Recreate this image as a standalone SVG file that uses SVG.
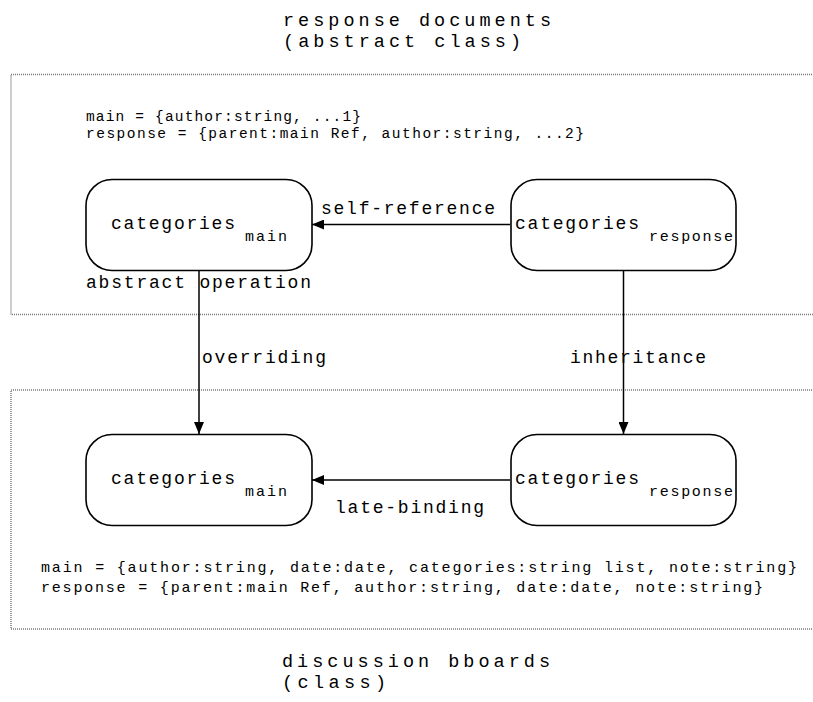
<svg xmlns="http://www.w3.org/2000/svg" width="813" height="702" viewBox="0 0 813 702">
<style>
text{font-family:"Liberation Mono","DejaVu Sans Mono",monospace;fill:#000}
.title{font-size:18.5px}
.lbl{font-size:18px}
.sub{font-size:15px}
.rec{font-size:14.5px}
.rec2{font-size:15px}
.frame{fill:none;stroke:#7a7a7a;stroke-width:1.5;stroke-dasharray:1 1}
.node{fill:#fff;stroke:#000;stroke-width:1.6}
.edge{fill:none;stroke:#000;stroke-width:1.5}
</style>
<defs>
<marker id="arr" viewBox="0 0 12 10" refX="12" refY="5" markerWidth="12" markerHeight="10" markerUnits="userSpaceOnUse" orient="auto">
<path d="M0,0 L12,5 L0,10 Z" fill="#000"/>
</marker>
</defs>
<rect width="813" height="702" fill="#fff"/>
<g id="frame-abstract">
<rect class="frame" x="11" y="74.5" width="830" height="240"/>
<text class="title" x="283" y="26" textLength="268" lengthAdjust="spacing">response documents</text>
<text class="title" x="283" y="47" textLength="238" lengthAdjust="spacing">(abstract class)</text>
<text class="rec" x="86" y="121" textLength="275" lengthAdjust="spacing">main = {author:string, ...1}</text>
<text class="rec" x="86" y="138" textLength="498" lengthAdjust="spacing">response = {parent:main Ref, author:string, ...2}</text>
<text class="lbl" x="86" y="288" textLength="225" lengthAdjust="spacing">abstract operation</text>
</g>
<g id="frame-class">
<rect class="frame" x="11" y="390" width="830" height="239"/>
<text class="rec2" x="41" y="572" textLength="756" lengthAdjust="spacing">main = {author:string, date:date, categories:string list, note:string}</text>
<text class="rec2" x="41" y="592" textLength="722" lengthAdjust="spacing">response = {parent:main Ref, author:string, date:date, note:string}</text>
<text class="title" x="282" y="667" textLength="268" lengthAdjust="spacing">discussion bboards</text>
<text class="title" x="282" y="688" textLength="104" lengthAdjust="spacing">(class)</text>
</g>
<g id="connectors">
<line class="edge" x1="510" y1="224.5" x2="312" y2="224.5" marker-end="url(#arr)"/>
<line class="edge" x1="199" y1="270" x2="199" y2="434" marker-end="url(#arr)"/>
<line class="edge" x1="623.5" y1="270" x2="623.5" y2="434" marker-end="url(#arr)"/>
<line class="edge" x1="510" y1="480" x2="312" y2="480" marker-end="url(#arr)"/>
<text class="lbl" x="321" y="214" textLength="174" lengthAdjust="spacing">self-reference</text>
<text class="lbl" x="202" y="363" textLength="124" lengthAdjust="spacing">overriding</text>
<text class="lbl" x="570" y="363" textLength="136" lengthAdjust="spacing">inheritance</text>
<text class="lbl" x="335" y="513" textLength="149" lengthAdjust="spacing">late-binding</text>
</g>
<g id="node-abs-main">
<rect class="node" x="86" y="179.5" width="226" height="91" rx="26"/>
<text class="lbl" x="111" y="229" textLength="124" lengthAdjust="spacing">categories</text>
<text class="sub" x="245" y="241" textLength="42" lengthAdjust="spacing">main</text>
</g>
<g id="node-abs-response">
<rect class="node" x="511" y="179.5" width="225" height="91" rx="26"/>
<text class="lbl" x="515" y="229" textLength="124" lengthAdjust="spacing">categories</text>
<text class="sub" x="649" y="241" textLength="84" lengthAdjust="spacing">response</text>
</g>
<g id="node-main">
<rect class="node" x="86" y="434.5" width="226" height="91" rx="26"/>
<text class="lbl" x="111" y="484" textLength="124" lengthAdjust="spacing">categories</text>
<text class="sub" x="245" y="496" textLength="42" lengthAdjust="spacing">main</text>
</g>
<g id="node-response">
<rect class="node" x="511" y="434.5" width="225" height="91" rx="26"/>
<text class="lbl" x="515" y="484" textLength="124" lengthAdjust="spacing">categories</text>
<text class="sub" x="649" y="496" textLength="84" lengthAdjust="spacing">response</text>
</g>
</svg>
